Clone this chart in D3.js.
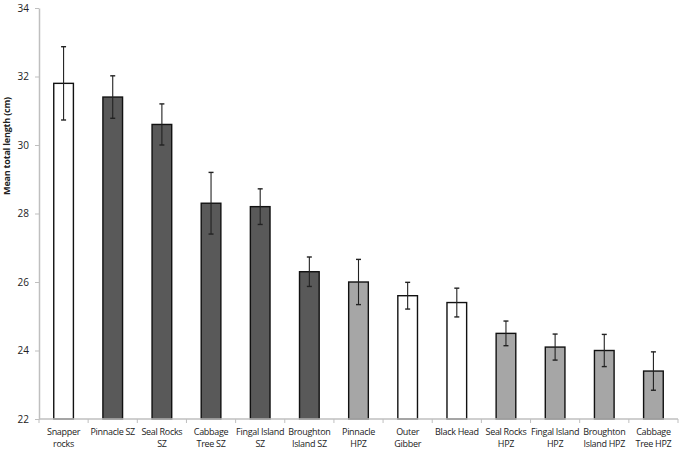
<!DOCTYPE html>
<html>
<head>
<script src="https://d3js.org/d3.v7.min.js"></script>
<style>
  body { margin: 0; background: #fff; }
  text { font-family: "Open Sans", "Noto Sans", sans-serif; fill: #222; }
</style>
</head>
<body>
<div id="graph"></div>
<script>
// sites, in plot order (each label split over lines)
var sites = [
  ["Snapper", "rocks"], ["Pinnacle SZ"], ["Seal Rocks", "SZ"], ["Cabbage", "Tree SZ"],
  ["Fingal Island", "SZ"], ["Broughton", "Island SZ"], ["Pinnacle", "HPZ"], ["Outer", "Gibber"],
  ["Black Head"], ["Seal Rocks", "HPZ"], ["Fingal Island", "HPZ"], ["Broughton", "Island HPZ"],
  ["Cabbage", "Tree HPZ"]
];
var zone = ["open", "SZ", "SZ", "SZ", "SZ", "SZ", "HPZ", "open", "open", "HPZ", "HPZ", "HPZ", "HPZ"];
var meanLength = [31.8, 31.4, 30.6, 28.3, 28.2, 26.3, 26.0, 25.6, 25.4, 24.5, 24.1, 24.0, 23.4];
var errLength  = [1.07, 0.62, 0.6, 0.9, 0.52, 0.43, 0.66, 0.39, 0.42, 0.36, 0.38, 0.47, 0.56];
var yTicks = [22, 24, 26, 28, 30, 32, 34];

var margin = {top: 8, right: 5, bottom: 31, left: 39},
    width = 686 - margin.left - margin.right,
    height = 450 - margin.top - margin.bottom;

var color = d3.scaleOrdinal()
  .domain(["open", "SZ", "HPZ"])
  .range(["#ffffff", "#595959", "#a6a6a6"]);

var svg = d3.select("#graph").append("svg")
    .attr("width", 686).attr("height", 450)
  .append("g")
    .attr("transform", "translate(" + margin.left + "," + margin.top + ")");

var x = d3.scaleBand()
  .domain(d3.range(sites.length))
  .range([0, width - 3])
  .paddingInner(0.6).paddingOuter(0.3);

var y = d3.scaleLinear().domain([22, 34]).range([height, 0]);

// y axis
var yAxis = svg.append("g")
  .call(d3.axisLeft(y).tickValues(yTicks).tickSize(4).tickSizeOuter(0).tickPadding(6));
yAxis.select(".domain").attr("stroke", "#bfbfbf").attr("stroke-width", 1.5);
yAxis.selectAll(".tick line").attr("stroke", "#bfbfbf");
yAxis.selectAll("text").style("font-size", "10px").attr("fill", "#222");

svg.append("text")
  .attr("transform", "translate(" + (-29) + "," + 138 + ") rotate(-90)")
  .attr("text-anchor", "middle")
  .style("font-size", "9px")
  .style("font-weight", "bold")
  .style("letter-spacing", "-0.2px")
  .text("Mean total length (cm)");

// bars
svg.selectAll(".bar")
  .data(meanLength)
  .enter().append("rect")
    .attr("class", "bar")
    .attr("x", function(d, i) { return x(i); })
    .attr("width", x.bandwidth())
    .attr("y", function(d) { return y(d); })
    .attr("height", function(d) { return height - y(d); })
    .attr("fill", function(d, i) { return color(zone[i]); })
    .attr("stroke", "#111")
    .attr("stroke-width", 1.4);

// error bars
var eb = svg.selectAll(".err")
  .data(meanLength)
  .enter().append("g")
    .attr("class", "err")
    .attr("transform", function(d, i) { return "translate(" + (x(i) + x.bandwidth() / 2) + ",0)"; });

eb.append("line")
  .attr("y1", function(d, i) { return y(d + errLength[i]); })
  .attr("y2", function(d, i) { return y(d - errLength[i]); })
  .attr("stroke", "#222").attr("stroke-width", 1.1);
eb.append("line")
  .attr("x1", -2.5).attr("x2", 2.5)
  .attr("y1", function(d, i) { return y(d + errLength[i]); })
  .attr("y2", function(d, i) { return y(d + errLength[i]); })
  .attr("stroke", "#222").attr("stroke-width", 1.4);
eb.append("line")
  .attr("x1", -2.5).attr("x2", 2.5)
  .attr("y1", function(d, i) { return y(d - errLength[i]); })
  .attr("y2", function(d, i) { return y(d - errLength[i]); })
  .attr("stroke", "#222").attr("stroke-width", 1.4);

// x axis with ticks between categories
var xAxis = svg.append("g").attr("transform", "translate(0," + height + ")");
xAxis.append("line")
  .attr("x1", 0).attr("x2", width - 3)
  .attr("stroke", "#bfbfbf").attr("stroke-width", 1.5);
xAxis.selectAll(".sep")
  .data(d3.range(sites.length + 1))
  .enter().append("line")
    .attr("x1", function(i) { return i * x.step(); })
    .attr("x2", function(i) { return i * x.step(); })
    .attr("y1", 0).attr("y2", 4)
    .attr("stroke", "#bfbfbf");

var lab = xAxis.selectAll(".lab")
  .data(sites)
  .enter().append("text")
    .attr("class", "lab")
    .attr("text-anchor", "middle")
    .attr("x", function(d, i) { return x(i) + x.bandwidth() / 2; })
    .attr("y", 16)
    .style("font-size", "9px")
    .style("letter-spacing", "-0.3px");
lab.selectAll("tspan")
  .data(function(d) { return d; })
  .enter().append("tspan")
    .attr("x", function() { return this.parentNode.getAttribute("x"); })
    .attr("dy", function(d, j) { return j === 0 ? 0 : 12; })
    .text(function(d) { return d; });
</script>
</body>
</html>
